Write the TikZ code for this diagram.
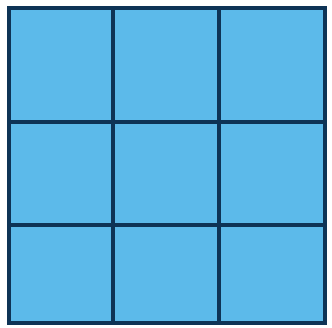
\documentclass[tikz,border=0pt]{standalone}
\usepackage{xcolor}
\usepackage{tikz}

\definecolor{cellblue}{RGB}{92,186,234}
\definecolor{gridnavy}{RGB}{14,52,86}

\begin{document}
\begin{tikzpicture}[
    x=1pt, y=-1pt,
    gridline/.style={draw=gridnavy, line width=3.6pt},
    board/.style={fill=cellblue, gridline}
]
\useasboundingbox (0,0) rectangle (332,328);
\fill[white] (0,0) rectangle (332,328);
% the board and its cuts
\draw[board] (9,8) rectangle (325,323);
\foreach \x in {113,219}
    \draw[gridline] (\x,8) -- (\x,323);
\foreach \y in {122,225}
    \draw[gridline] (9,\y) -- (325,\y);
\end{tikzpicture}
\end{document}
